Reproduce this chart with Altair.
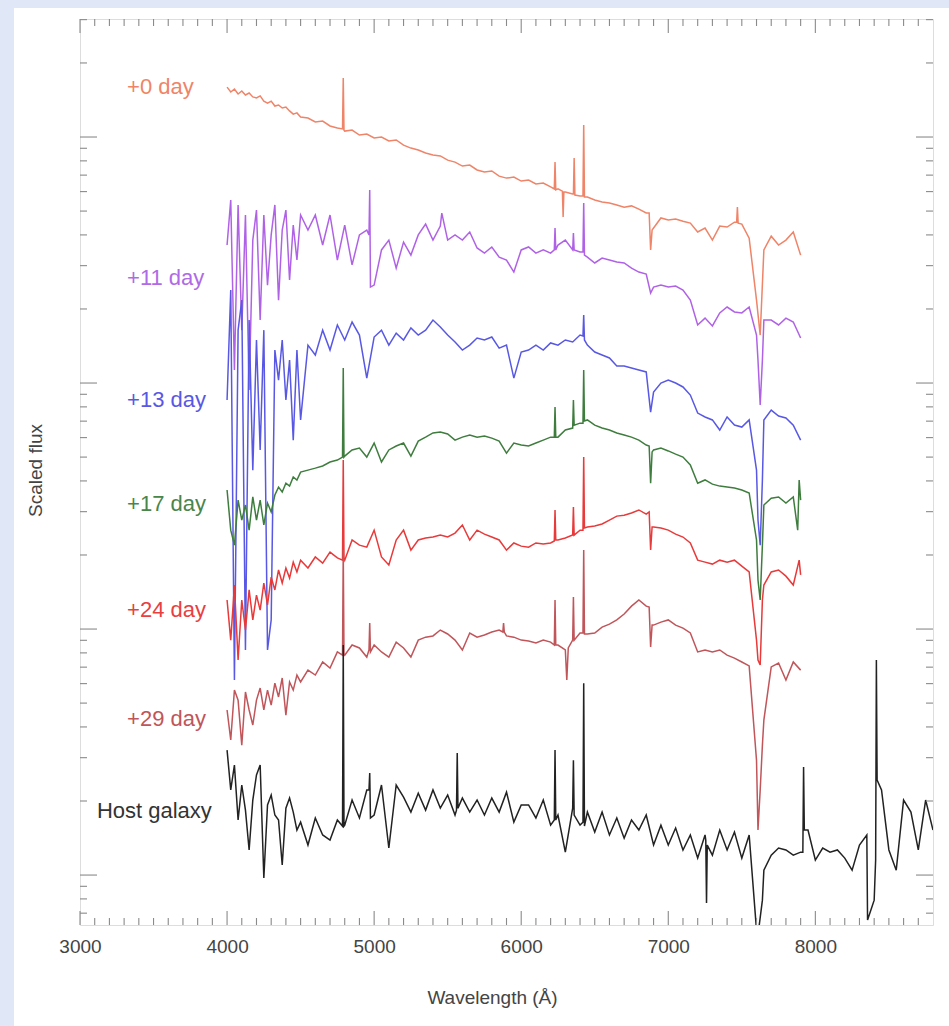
import altair as alt
import pandas as pd

# ---------------- data (log10 scaled flux) ----------------
wave_sn = [4000, 4025, 4050, 4075, 4100, 4125, 4150, 4175, 4200, 4225, 4250, 4275, 4300, 4325, 4350,
           4375, 4400, 4425, 4450, 4475, 4500,
           4550, 4600, 4650, 4700, 4750, 4800, 4850, 4900, 4950, 5000,
           5050, 5100, 5150, 5200, 5250, 5300, 5350, 5400, 5450, 5500,
           5550, 5600, 5650, 5700, 5750, 5800, 5850, 5900, 5950, 6000,
           6050, 6100, 6150, 6200, 6250, 6300, 6350, 6400, 6450, 6500,
           6550, 6600, 6650, 6700, 6750, 6800, 6850, 6900, 6950, 7000,
           7050, 7100, 7150, 7200, 7250, 7300, 7350, 7400, 7450, 7500,
           7550, 7600, 7650, 7700, 7750, 7800, 7850, 7900]
wave_host_extra = [7950, 8000, 8050, 8100, 8150, 8200, 8250, 8300, 8350, 8400,
                   8450, 8500, 8550, 8600, 8650, 8700, 8750, 8800]

day0 = [3.203, 3.183, 3.195, 3.175, 3.187, 3.171, 3.179, 3.163, 3.159, 3.167, 3.146, 3.138, 3.146, 3.126,
        3.130, 3.118, 3.122, 3.106, 3.093, 3.098, 3.081,
        3.077, 3.061, 3.065, 3.045, 3.037, 3.024, 3.028, 3.008, 3.012, 2.996,
        3.000, 2.984, 2.988, 2.967, 2.955, 2.947, 2.935, 2.927, 2.923, 2.906,
        2.898, 2.882, 2.886, 2.866, 2.858, 2.862, 2.841, 2.833, 2.837, 2.821,
        2.825, 2.809, 2.813, 2.797, 2.789, 2.776, 2.768, 2.760, 2.756, 2.744,
        2.736, 2.732, 2.724, 2.715, 2.720, 2.707, 2.691, 2.630, 2.671, 2.663,
        2.667, 2.658, 2.650, 2.614, 2.630, 2.581, 2.638, 2.634, 2.654, 2.646,
        2.589, 2.337, 2.541, 2.597, 2.561, 2.581, 2.614, 2.520]
day11 = [2.561, 2.744, 2.053, 2.724, 2.215, 2.683, 1.972, 2.581, 2.703, 2.256, 2.683, 2.398, 2.602, 2.724,
         2.337, 2.622, 2.703, 2.419, 2.642, 2.500, 2.683,
         2.622, 2.683, 2.561, 2.683, 2.500, 2.642, 2.480, 2.602, 2.622, 2.398,
         2.541, 2.581, 2.467, 2.573, 2.520, 2.602, 2.646, 2.581, 2.638, 2.581,
         2.602, 2.581, 2.614, 2.549, 2.528, 2.553, 2.512, 2.500, 2.451, 2.541,
         2.553, 2.528, 2.541, 2.528, 2.561, 2.581, 2.541, 2.533, 2.512, 2.488,
         2.508, 2.500, 2.492, 2.488, 2.467, 2.451, 2.443, 2.390, 2.398, 2.390,
         2.394, 2.378, 2.337, 2.236, 2.264, 2.232, 2.285, 2.309, 2.289, 2.285,
         2.309, 2.195, 2.256, 2.256, 2.236, 2.264, 2.248, 2.183]
day13 = [1.931, 2.378, 0.793, 2.215, 2.337, 0.915, 2.256, 1.646, 2.175, 1.728, 2.215, 0.915, 1.037, 2.134,
         2.012, 2.175, 1.931, 2.093, 1.768, 2.134, 1.850,
         2.154, 2.114, 2.215, 2.134, 2.236, 2.175, 2.248, 2.195, 2.020, 2.187,
         2.215, 2.154, 2.203, 2.175, 2.224, 2.195, 2.215, 2.256, 2.228, 2.195,
         2.167, 2.134, 2.154, 2.183, 2.175, 2.187, 2.142, 2.154, 2.020, 2.126,
         2.134, 2.154, 2.134, 2.163, 2.154, 2.175, 2.167, 2.195, 2.154, 2.126,
         2.114, 2.102, 2.069, 2.069, 2.061, 2.053, 2.045, 1.963, 2.000, 2.012,
         2.000, 1.984, 1.951, 1.878, 1.862, 1.850, 1.809, 1.862, 1.829, 1.821,
         1.850, 1.646, 1.850, 1.890, 1.866, 1.858, 1.829, 1.768]
day17 = [1.565, 1.402, 1.341, 1.524, 1.443, 1.504, 1.402, 1.537, 1.443, 1.524, 1.423, 1.512, 1.476, 1.545,
         1.577, 1.557, 1.593, 1.581, 1.618, 1.606, 1.638,
         1.646, 1.654, 1.663, 1.679, 1.687, 1.703, 1.728, 1.736, 1.699, 1.756,
         1.679, 1.728, 1.744, 1.756, 1.703, 1.764, 1.780, 1.797, 1.801, 1.793,
         1.768, 1.780, 1.789, 1.780, 1.785, 1.776, 1.764, 1.715, 1.756, 1.748,
         1.744, 1.756, 1.768, 1.780, 1.780, 1.809, 1.817, 1.837, 1.850, 1.829,
         1.817, 1.809, 1.797, 1.789, 1.780, 1.768, 1.748, 1.728, 1.736, 1.724,
         1.711, 1.699, 1.667, 1.593, 1.606, 1.589, 1.581, 1.577, 1.573, 1.565,
         1.553, 1.362, 1.504, 1.532, 1.537, 1.512, 1.537, 1.524]
day24 = [1.118, 0.955, 1.179, 0.874, 1.118, 0.996, 1.159, 1.037, 1.138, 1.077, 1.187, 1.098, 1.211, 1.159,
         1.240, 1.187, 1.248, 1.207, 1.272, 1.232, 1.280,
         1.248, 1.293, 1.268, 1.313, 1.289, 1.280, 1.362, 1.341, 1.333, 1.402,
         1.293, 1.260, 1.362, 1.402, 1.321, 1.362, 1.370, 1.374, 1.382, 1.374,
         1.390, 1.423, 1.362, 1.402, 1.386, 1.374, 1.362, 1.321, 1.350, 1.337,
         1.333, 1.350, 1.346, 1.350, 1.362, 1.370, 1.382, 1.402, 1.415, 1.419,
         1.427, 1.443, 1.459, 1.463, 1.472, 1.484, 1.467, 1.415, 1.411, 1.402,
         1.386, 1.374, 1.350, 1.280, 1.272, 1.264, 1.280, 1.272, 1.280, 1.256,
         1.232, 0.955, 1.179, 1.232, 1.240, 1.215, 1.179, 1.220]
day29 = [0.671, 0.549, 0.752, 0.711, 0.528, 0.744, 0.671, 0.610, 0.711, 0.760, 0.671, 0.752, 0.691, 0.780,
         0.724, 0.801, 0.650, 0.785, 0.752, 0.813, 0.785,
         0.833, 0.813, 0.866, 0.841, 0.907, 0.894, 0.935, 0.923, 0.886, 0.935,
         0.907, 0.886, 0.947, 0.923, 0.886, 0.955, 0.967, 0.972, 0.996, 0.980,
         0.955, 0.915, 0.984, 0.967, 0.976, 0.988, 0.996, 0.972, 0.967, 0.955,
         0.951, 0.943, 0.955, 0.947, 0.935, 0.915, 0.955, 0.984, 0.980, 0.984,
         1.008, 1.020, 1.037, 1.061, 1.093, 1.118, 1.093, 1.016, 1.028, 1.037,
         1.016, 1.004, 0.984, 0.907, 0.915, 0.907, 0.915, 0.894, 0.882, 0.866,
         0.850, 0.467, 0.630, 0.846, 0.862, 0.793, 0.866, 0.833]
host = [0.508, 0.346, 0.447, 0.224, 0.366, 0.264, 0.102, 0.305, 0.407, 0.447, -0.012, 0.285, 0.325, 0.244,
        0.224, 0.041, 0.272, 0.313, 0.256, 0.183, 0.215,
        0.122, 0.232, 0.163, 0.142, 0.224, 0.203, 0.305, 0.232, 0.346, 0.244,
        0.366, 0.110, 0.366, 0.317, 0.256, 0.333, 0.264, 0.346, 0.272, 0.325,
        0.244, 0.313, 0.256, 0.305, 0.244, 0.313, 0.256, 0.337, 0.215, 0.285,
        0.285, 0.232, 0.305, 0.203, 0.244, 0.093, 0.272, 0.203, 0.256, 0.175,
        0.256, 0.163, 0.232, 0.150, 0.224, 0.183, 0.244, 0.122, 0.203, 0.122,
        0.191, 0.102, 0.163, 0.069, 0.163, 0.081, 0.183, 0.102, 0.175, 0.069,
        0.163, -0.224, 0.020, 0.081, 0.110, 0.102, 0.081, 0.093,
        0.183, 0.061, 0.110, 0.093, 0.102, 0.069, 0.020, 0.122, 0.163, -0.102,
        0.346, 0.102, 0.020, 0.305, 0.256, 0.102, 0.305, 0.183]

# narrow features (wavelength, log10 flux)
spk_day0 = [(4785, 3.033), (4790, 3.240), (4795, 3.028), (6225, 2.789), (6230, 2.898), (6235, 2.785),
            (6280, 2.780), (6285, 2.675), (6290, 2.776), (6355, 2.768), (6360, 2.915), (6365, 2.764),
            (6420, 2.760), (6425, 3.049), (6430, 2.756), (6870, 2.691), (6880, 2.541), (6890, 2.622),
            (7465, 2.654), (7470, 2.715), (7475, 2.650), (7625, 2.195)]
spk_day11 = [(4965, 2.602), (4970, 2.785), (4975, 2.390), (5460, 2.691), (6225, 2.541), (6230, 2.630),
             (6235, 2.541), (6355, 2.610), (6360, 2.541), (6420, 2.533), (6425, 2.732), (6430, 2.520),
             (6880, 2.366), (7610, 2.093), (7625, 1.911), (7640, 2.093)]
spk_day13 = [(6420, 2.191), (6425, 2.276), (6430, 2.175), (6880, 1.882), (7610, 1.443), (7625, 1.341),
             (7640, 1.606)]
spk_day17 = [(4785, 1.699), (4790, 2.061), (4795, 1.699), (6225, 1.780), (6230, 1.902), (6235, 1.780),
             (6355, 1.931), (6360, 1.829), (6420, 1.837), (6425, 2.053), (6430, 1.846), (6870, 1.744),
             (6880, 1.593), (6890, 1.720), (7610, 1.199), (7625, 1.118), (7640, 1.341), (7880, 1.402),
             (7890, 1.606)]
spk_day24 = [(4785, 1.280), (4790, 1.687), (4795, 1.289), (6225, 1.358), (6230, 1.484), (6235, 1.362),
             (6355, 1.496), (6360, 1.382), (6420, 1.402), (6425, 1.699), (6430, 1.411), (6870, 1.476),
             (6880, 1.321), (6890, 1.415), (7610, 0.874), (7625, 0.854), (7640, 1.118), (7890, 1.280)]
spk_day29 = [(4785, 0.894), (4790, 1.321), (4795, 0.898), (4965, 0.915), (4970, 1.024), (4975, 0.907),
             (5875, 0.988), (5880, 1.024), (5885, 0.988), (6225, 0.935), (6230, 1.118), (6235, 0.935),
             (6310, 0.793), (6320, 0.923), (6355, 1.130), (6360, 0.955), (6420, 0.984), (6425, 1.321),
             (6430, 0.980), (6870, 1.089), (6880, 0.927), (6890, 1.016), (7610, 0.183), (7625, 0.346),
             (7640, 0.528)]
spk_host = [(4785, 0.199), (4790, 0.935), (4795, 0.199), (4965, 0.346), (4970, 0.415), (4975, 0.232),
            (5560, 0.264), (5565, 0.496), (5570, 0.272), (6225, 0.224), (6230, 0.508), (6235, 0.224),
            (6355, 0.467), (6360, 0.244), (6420, 0.215), (6425, 0.780), (6430, 0.199), (7255, 0.142),
            (7260, -0.114), (7265, 0.122), (7610, -0.244), (7640, -0.102), (7915, 0.093), (7920, 0.439),
            (7925, 0.183), (8355, -0.183), (8410, 0.061), (8415, 0.874), (8420, 0.386)]

label_text = ["+0 day", "+11 day", "+13 day", "+17 day", "+24 day", "+29 day", "Host galaxy"]
label_wave = [3320, 3320, 3320, 3320, 3320, 3320, 3115]
label_dex = [3.203, 2.427, 1.931, 1.508, 1.077, 0.634, 0.260]
series_colors = ["#ef8468", "#b062e6", "#5858e4", "#3f7d3f", "#e83a3a", "#c0555a", "#222222"]
label_colors = ["#ef8468", "#b06ae6", "#5858e4", "#4a854a", "#e84040", "#c0555a", "#333333"]

x_major = [3000, 4000, 5000, 6000, 7000, 8000]
x_minor = [w for w in range(3100, 8800, 100) if w % 1000 != 0]
y_major = [1, 10, 100, 1000]
y_minor = [0.7, 0.8, 0.9, 2, 3, 4, 5, 6, 7, 8, 9, 20, 30, 40, 50, 60, 70, 80, 90,
           200, 300, 400, 500, 600, 700, 800, 900, 2000, 3000]

# ---------------- chart ----------------
W, H = 853, 906
GRAY = "#444444"
TICK = "#8a8a8a"

xscale = alt.Scale(domain=[3000, 8800], nice=False, zero=False)
yscale = alt.Scale(type="log", domain=[0.6266, 3018], nice=False)
xaxis = alt.Axis(values=x_major, format="d", ticks=False, tickSize=0, domain=False, grid=False,
                 labelFontSize=19, labelColor=GRAY, labelPadding=12, labelFont="Liberation Sans",
                 labelFlush=False, labelAlign="center",
                 title="Wavelength (Å)", titleFontSize=19, titleFontWeight="normal", titleColor=GRAY,
                 titleFont="Liberation Sans", titleX=412, titleY=72, titleBaseline="middle",
                 titleAlign="center")
yaxis = alt.Axis(labels=False, ticks=False, tickSize=0, domain=False, grid=False,
                 title="Scaled flux", titleFontSize=19, titleFontWeight="normal", titleColor=GRAY,
                 titleFont="Liberation Sans", titleAngle=-90, titleX=-45, titleY=451,
                 titleBaseline="middle", titleAlign="center")


def X(field):
    return alt.X(field + ":Q", scale=xscale, axis=xaxis)


def Y(field):
    return alt.Y(field + ":Q", scale=yscale, axis=yaxis)


def spectrum_df(waves, vals, spikes):
    pts = list(zip(waves, vals)) + list(spikes)
    pts.sort(key=lambda p: p[0])
    return pd.DataFrame(pts, columns=["wave", "dex"])


series = [
    (wave_sn, day0, spk_day0),
    (wave_sn, day11, spk_day11),
    (wave_sn, day13, spk_day13),
    (wave_sn, day17, spk_day17),
    (wave_sn, day24, spk_day24),
    (wave_sn, day29, spk_day29),
    (wave_sn + wave_host_extra, host, spk_host),
]

layers = []

# light blue margin strips of the original figure
one = pd.DataFrame({"a": [0]})
layers.append(alt.Chart(one).mark_rect(color="#e0e8f8").encode(
    x=alt.value(-80), x2=alt.value(-66), y=alt.value(-19), y2=alt.value(H + 101)))
layers.append(alt.Chart(one).mark_rect(color="#e0e8f8").encode(
    x=alt.value(-80), x2=alt.value(W + 16), y=alt.value(-19), y2=alt.value(-11)))

for (w, v, s), c in zip(series, series_colors):
    df = spectrum_df(w, v, s)
    layers.append(
        alt.Chart(df).transform_calculate(flux="pow(10, datum.dex)")
        .mark_line(color=c, strokeWidth=1.5, clip=True, strokeJoin="miter")
        .encode(x=X("wave"), y=Y("flux"))
    )

lab = pd.DataFrame({"text": label_text, "wave": label_wave, "dex": label_dex, "col": label_colors})
layers.append(
    alt.Chart(lab).transform_calculate(flux="pow(10, datum.dex)")
    .mark_text(align="left", baseline="middle", fontSize=22, font="Liberation Sans")
    .encode(x=X("wave"), y=Y("flux"), text="text:N", color=alt.Color("col:N", scale=None))
)

# inward ticks on all four sides
for vals, L in [(x_major, 14), (x_minor, 7)]:
    d = pd.DataFrame({"v": vals})
    layers.append(alt.Chart(d).mark_rule(color=TICK, strokeWidth=1.1).encode(
        x=X("v"), y=alt.value(H), y2=alt.value(H - L)))
    layers.append(alt.Chart(d).mark_rule(color=TICK, strokeWidth=1.1).encode(
        x=X("v"), y=alt.value(0), y2=alt.value(L)))
for vals, L in [(y_major, 17), (y_minor, 7)]:
    d = pd.DataFrame({"v": vals})
    layers.append(alt.Chart(d).mark_rule(color=TICK, strokeWidth=1.1).encode(
        y=Y("v"), x=alt.value(0), x2=alt.value(L)))
    layers.append(alt.Chart(d).mark_rule(color=TICK, strokeWidth=1.1).encode(
        y=Y("v"), x=alt.value(W), x2=alt.value(W - L)))

chart = (
    alt.layer(*layers)
    .properties(width=W, height=H, autosize=alt.AutoSizeParams(type="none"),
                padding={"left": 80, "top": 19, "right": 16, "bottom": 101})
    .configure_view(stroke="#808080", strokeWidth=1.5)
    .configure(font="Liberation Sans", background="white")
)

chart.save("out.html", embed_options={"renderer": "svg", "actions": False})
